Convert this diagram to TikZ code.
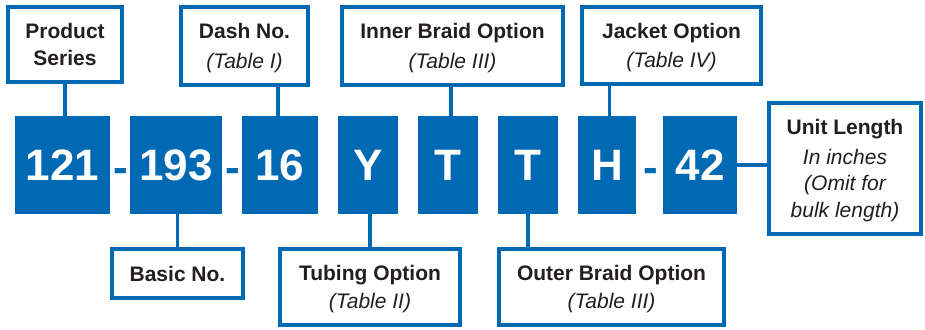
\documentclass[tikz,border=0pt]{standalone}
\usepackage{fontspec}
\setmainfont{Liberation Sans}
\definecolor{pblue}{HTML}{0069B4}
\definecolor{inkc}{HTML}{231F20}
\begin{document}
\begin{tikzpicture}[x=1pt,y=-1pt,
  lbl/.style={draw=pblue, line width=3.6pt, fill=white, inner sep=0pt, align=center,
    text=inkc, text depth=0pt, font=\fontsize{21}{26.7}\selectfont\bfseries},
  codebox/.style={fill=pblue, text=white, inner sep=0pt, minimum height=98pt,
    text height=31.5pt, text depth=0pt, font=\fontsize{44}{44}\selectfont\bfseries},
  hyph/.style={text=pblue, inner sep=0pt, anchor=base, font=\fontsize{44}{44}\selectfont\bfseries},
  conn/.style={draw=pblue, line width=3.6pt}
]
\useasboundingbox (0,0) rectangle (925,329);
% code boxes
\node[codebox, minimum width=95pt] (c121) at (62.5,165) {121};
\node[codebox, minimum width=92pt] (c193) at (176,165) {193};
\node[codebox, minimum width=76pt] (c16) at (280,165) {16};
\node[codebox, minimum width=60pt] (cY) at (368,165) {Y};
\node[codebox, minimum width=60pt] (cT1) at (448,165) {T};
\node[codebox, minimum width=60pt] (cT2) at (528,165) {T};
\node[codebox, minimum width=58pt] (cH) at (607,165) {H};
\node[codebox, minimum width=74pt] (c42) at (700,165) {42};
% hyphens
\node[hyph] (h1) at (121,182) {-};
\node[hyph] (h2) at (233,182) {-};
\node[hyph] (h3) at (650.5,182) {-};
% label boxes
\node[lbl, minimum width=114.4pt, minimum height=75.4pt] (ps) at (65,44.5) {Product\\Series};
\node[lbl, minimum width=127.4pt, minimum height=78.4pt] (dash) at (244.5,46) {Dash No.\\[3pt]{\mdseries\itshape (Table I)}};
\node[lbl, minimum width=221.4pt, minimum height=78.4pt] (inner) at (452.5,46) {Inner Braid Option\\[3pt]{\mdseries\itshape (Table III)}};
\node[lbl, minimum width=179.4pt, minimum height=77.4pt] (jacket) at (671.5,45.5) {Jacket Option\\[3pt]{\mdseries\itshape (Table IV)}};
\node[lbl, minimum width=131.4pt, minimum height=49.4pt] (basic) at (177.5,273.5) {Basic No.};
\node[lbl, minimum width=180.4pt, minimum height=76.4pt] (tub) at (370,287) {Tubing Option\\[1pt]{\mdseries\itshape (Table II)}};
\node[lbl, minimum width=225.4pt, minimum height=76.4pt] (outer) at (611.5,287) {Outer Braid Option\\[1pt]{\mdseries\itshape (Table III)}};
\node[lbl, minimum width=152.4pt, minimum height=131.4pt] (unit) at (845,168.5) {Unit Length\\[3pt]{\mdseries\itshape In inches}\\{\mdseries\itshape (Omit for}\\{\mdseries\itshape bulk length)}};
% connectors
\draw[conn] (ps.south) -- (ps.south |- c121.north);
\draw[conn] ([xshift=-2pt]c16.north) -- ([xshift=-2pt]c16.north |- dash.south);
\draw[conn] (basic.north) -- (basic.north |- c193.south);
\draw[conn] (tub.north) -- (tub.north |- cY.south);
\draw[conn] ([xshift=3pt]cT1.north) -- ([xshift=3pt]cT1.north |- inner.south);
\draw[conn] (cT2.south) -- (cT2.south |- outer.north);
\draw[conn] ([xshift=2.5pt]cH.north) -- ([xshift=2.5pt]cH.north |- jacket.south);
\draw[conn] (c42.east) -- (c42.east -| unit.west);
\end{tikzpicture}
\end{document}
